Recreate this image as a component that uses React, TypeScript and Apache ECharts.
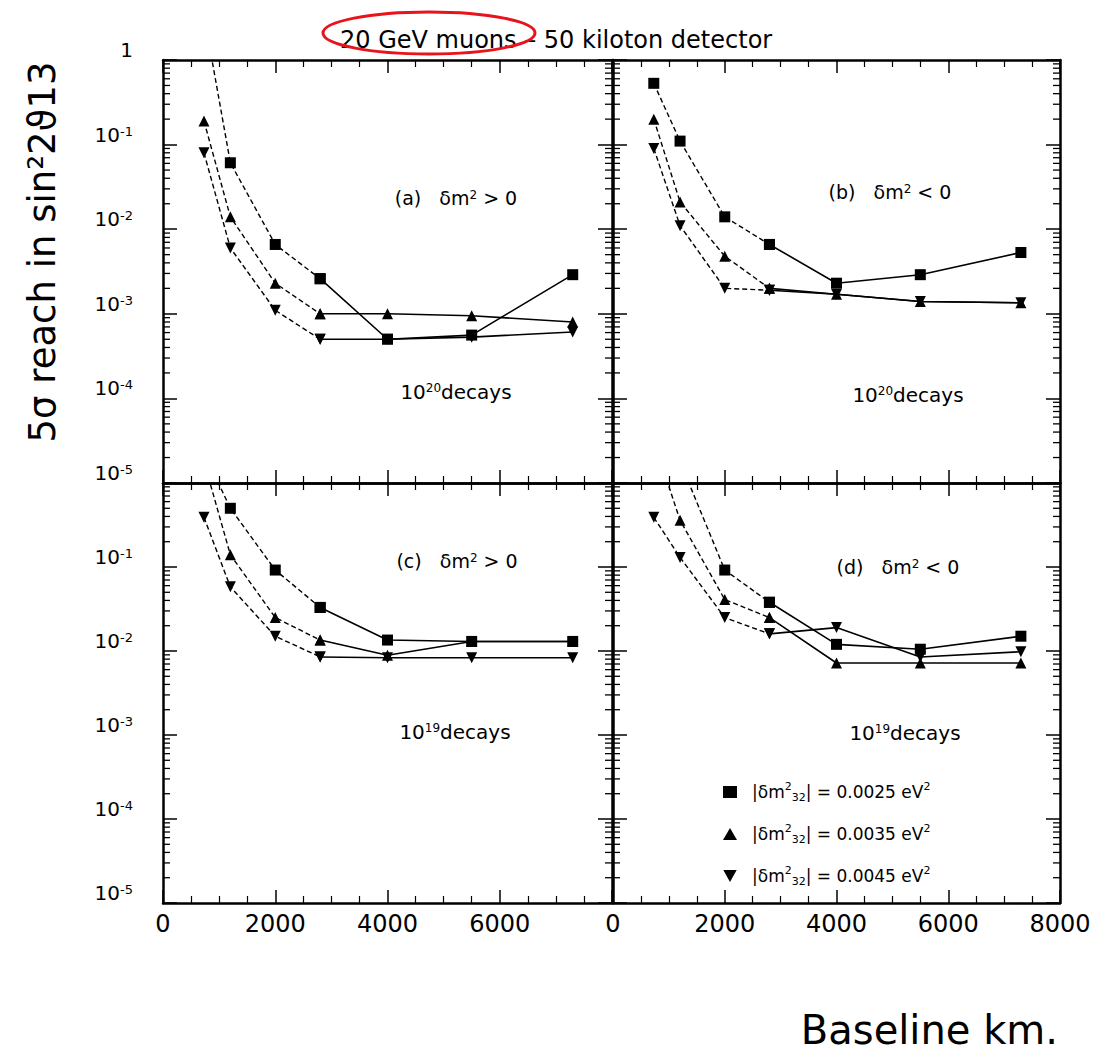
import React, { useEffect, useRef } from "react";
import * as echarts from "echarts";

// ---------- data ----------
const BASELINES = [730, 1200, 2000, 2800, 4000, 5500, 7300];

// panel (a) dm^2 > 0, 10^20 decays
const A_SQUARE = [3.4, 0.061, 0.0066, 0.0026, 0.0005, 0.00056, 0.0029];
const A_UP = [0.19, 0.014, 0.0023, 0.001, 0.001, 0.00095, 0.0008];
const A_DOWN = [0.08, 0.006, 0.0011, 0.0005, 0.0005, 0.00053, 0.00061];
// panel (b) dm^2 < 0, 10^20 decays
const B_SQUARE = [0.53, 0.11, 0.014, 0.0066, 0.0023, 0.0029, 0.0053];
const B_UP = [0.2, 0.021, 0.0048, 0.002, 0.0017, 0.0014, 0.00135];
const B_DOWN = [0.09, 0.011, 0.002, 0.0019, 0.0017, 0.0014, 0.00135];
// panel (c) dm^2 > 0, 10^19 decays
const C_SQUARE = [2.3, 0.5, 0.092, 0.033, 0.0135, 0.013, 0.013];
const C_UP = [1.8, 0.14, 0.025, 0.0135, 0.0089, 0.013, 0.013];
const C_DOWN = [0.39, 0.058, 0.015, 0.0085, 0.0083, 0.0083, 0.0083];
// panel (d) dm^2 < 0, 10^19 decays
const D_SQUARE = [20, 1.8, 0.092, 0.038, 0.012, 0.0105, 0.015];
const D_UP = [3.2, 0.36, 0.041, 0.025, 0.0072, 0.0072, 0.0072];
const D_DOWN = [0.39, 0.13, 0.025, 0.016, 0.019, 0.0085, 0.0098];

const PANEL_TAGS = ["(a)", "(b)", "(c)", "(d)"];
const PANEL_SIGNS = [">", "<", ">", "<"];
const PANEL_DECAYS = ["20", "20", "19", "19"];
const LEGEND_NAMES = ["sq", "up", "dn"];
const LEGEND_VALUES = ["0.0025", "0.0035", "0.0045"];
const X_TICKS_MAX = 8000;
const Y_DECADES = [-5, -4, -3, -2, -1];
const Y_MINOR_MULT = [2, 3, 4, 5, 6, 7, 8, 9];

const TITLE = "20 GeV muons \u2013 50 kiloton detector";
const Y_TITLE = "5\u03c3 reach in sin\u00b22\u03d113";
const X_TITLE = "Baseline km.";

const FONT = "DejaVu Sans";
const INK = "#000";

function buildOption() {
  const grids = [
    { left: 163, top: 60, width: 449, height: 423 },
    { left: 613, top: 60, width: 447, height: 423 },
    { left: 163, top: 483, width: 449, height: 420 },
    { left: 613, top: 483, width: 447, height: 420 },
  ];
  const panels = [
    { sq: A_SQUARE, up: A_UP, dn: A_DOWN },
    { sq: B_SQUARE, up: B_UP, dn: B_DOWN },
    { sq: C_SQUARE, up: C_UP, dn: C_DOWN },
    { sq: D_SQUARE, up: D_UP, dn: D_DOWN },
  ];
  const minorY: number[] = [];
  Y_DECADES.forEach((d) => Y_MINOR_MULT.forEach((k) => minorY.push(k * Math.pow(10, d))));

  const xAxis: any[] = [];
  const yAxis: any[] = [];
  const series: any[] = [];

  grids.forEach((g, i) => {
    const bottomLabels = i >= 2;
    const common = {
      type: "value",
      gridIndex: i,
      min: 0,
      max: X_TICKS_MAX,
      interval: 2000,
      splitLine: { show: false },
      axisLine: { show: true, onZero: false, lineStyle: { color: INK, width: 2.5 } },
      axisTick: { show: true, inside: true, length: 13, lineStyle: { color: INK, width: 1.5 } },
      minorTick: { show: true, splitNumber: 4, length: 7, lineStyle: { color: INK, width: 1.2 } },
    };
    xAxis.push({
      ...common,
      position: "bottom",
      axisLabel: {
        show: bottomLabels,
        margin: 9,
        showMinLabel: true,
        showMaxLabel: true,
        color: INK,
        fontFamily: FONT,
        fontSize: 24,
        formatter: (v: number) => (i === 2 && v === X_TICKS_MAX ? "" : String(v)),
      },
    });
    xAxis.push({ ...common, position: "top", axisLabel: { show: false } });

    const ycommon = {
      type: "log",
      logBase: 10,
      gridIndex: i,
      min: 1e-5,
      max: 1,
      splitLine: { show: false },
      axisLine: { show: true, onZero: false, lineStyle: { color: INK, width: 2.5 } },
      axisTick: { show: true, inside: true, length: 14, lineStyle: { color: INK, width: 1.5 } },
      minorTick: { show: false },
    };
    const showY = i === 0 || i === 2;
    yAxis.push({
      ...ycommon,
      position: "left",
      axisLabel: {
        show: showY,
        margin: 30,
        verticalAlign: "bottom",
        showMinLabel: true,
        showMaxLabel: true,
        formatter: (v: number) => {
          const e = Math.round(Math.log10(v));
          if (e === 0) return i === 0 ? "{b|1}" : "";
          return "{b|10}{s|" + e + "}";
        },
        rich: {
          b: { fontSize: 20, fontFamily: FONT, color: INK, lineHeight: 20 },
          s: { fontSize: 13, fontFamily: FONT, color: INK, lineHeight: 13, verticalAlign: "top" },
        },
      },
    });
    yAxis.push({ ...ycommon, position: "right", axisLabel: { show: false } });

    // log minor ticks on both vertical edges, through the axis scale
    series.push({
      type: "custom",
      xAxisIndex: 2 * i,
      yAxisIndex: 2 * i,
      silent: true,
      clip: false,
      encode: { x: 0, y: 1 },
      data: minorY.map((v) => [0, v]),
      renderItem: (_p: any, api: any) => {
        const v = api.value(1);
        const l = api.coord([0, v]);
        const r = api.coord([X_TICKS_MAX, v]);
        return {
          type: "group",
          children: [
            { type: "line", shape: { x1: l[0], y1: l[1], x2: l[0] + 7, y2: l[1] }, style: { stroke: INK, lineWidth: 1.3 } },
            { type: "line", shape: { x1: r[0], y1: r[1], x2: r[0] - 7, y2: r[1] }, style: { stroke: INK, lineWidth: 1.3 } },
          ],
        };
      },
    });

    const p = panels[i];
    const defs = [
      { name: "sq", vals: p.sq, symbol: "rect", rotate: 0, size: 11 },
      { name: "up", vals: p.up, symbol: "triangle", rotate: 0, size: 11 },
      { name: "dn", vals: p.dn, symbol: "triangle", rotate: 180, size: 11 },
    ];
    defs.forEach((d) => {
      const pts = BASELINES.map((x, j) => [x, d.vals[j]]);
      const base = {
        type: "line",
        name: d.name,
        xAxisIndex: 2 * i,
        yAxisIndex: 2 * i,
        symbol: d.symbol,
        symbolRotate: d.rotate,
        symbolSize: d.size,
        itemStyle: { color: INK },
        clip: true,
        z: 3,
      };
      series.push({ ...base, data: pts.slice(0, 4), lineStyle: { color: INK, width: 1.4, type: [5, 3] } });
      series.push({ ...base, data: pts.slice(3), lineStyle: { color: INK, width: 1.6, type: "solid" } });
    });
  });

  const sup = { fontSize: 12, fontFamily: FONT, fill: INK, lineHeight: 12, verticalAlign: "top" };
  const graphic: any[] = [
    {
      type: "text",
      x: 340,
      y: 40,
      style: { text: TITLE, fontFamily: FONT, fontSize: 24, fill: INK, textAlign: "left", textVerticalAlign: "middle" },
    },
    {
      type: "ellipse",
      shape: { cx: 429, cy: 33, rx: 106, ry: 21 },
      style: { fill: "none", stroke: "#e8131b", lineWidth: 3 },
    },
    {
      type: "text",
      x: 42,
      y: 252,
      rotation: Math.PI / 2,
      style: { text: Y_TITLE, fontFamily: FONT, fontSize: 37, fill: INK, textAlign: "center", textVerticalAlign: "middle" },
    },
    {
      type: "text",
      x: 1058,
      y: 1030,
      style: { text: X_TITLE, fontFamily: FONT, fontSize: 40, fill: INK, textAlign: "right", textVerticalAlign: "middle" },
    },
  ];
  const tagPos = [
    [456, 198],
    [890, 192],
    [457, 561],
    [898, 567],
  ];
  const decPos = [
    [456, 392],
    [908, 395],
    [455, 732],
    [905, 733],
  ];
  for (let i = 0; i < 4; i++) {
    graphic.push({
      type: "text",
      x: tagPos[i][0],
      y: tagPos[i][1],
      style: {
        text: PANEL_TAGS[i] + "   \u03b4m{s|2} " + PANEL_SIGNS[i] + " 0",
        fontFamily: FONT,
        fontSize: 19,
        fill: INK,
        textAlign: "center",
        textVerticalAlign: "middle",
        rich: { s: sup },
      },
    });
    graphic.push({
      type: "text",
      x: decPos[i][0],
      y: decPos[i][1],
      style: {
        text: "10{s|" + PANEL_DECAYS[i] + "}decays",
        fontFamily: FONT,
        fontSize: 20,
        fill: INK,
        textAlign: "center",
        textVerticalAlign: "middle",
        rich: { s: sup },
      },
    });
  }

  const legendValue: Record<string, string> = {};
  LEGEND_NAMES.forEach((n, k) => (legendValue[n] = LEGEND_VALUES[k]));

  return {
    animation: false,
    backgroundColor: "#fff",
    grid: grids.map((g) => ({ ...g, containLabel: false })),
    xAxis,
    yAxis,
    series,
    graphic,
    legend: {
      left: 718,
      top: 776,
      orient: "vertical",
      itemGap: 20,
      itemWidth: 14,
      itemHeight: 12,
      selectedMode: false,
      data: [
        { name: "sq", icon: "rect" },
        { name: "up", icon: "triangle" },
        { name: "dn", icon: "path://M0,0L10,0L5,9Z" },
      ],
      itemStyle: { color: INK },
      formatter: (n: string) => "|\u03b4m{p|2}{q|32}| = " + legendValue[n] + " eV{p|2}",
      textStyle: {
        fontFamily: FONT,
        fontSize: 17,
        color: INK,
        lineHeight: 22,
        padding: [0, 0, 0, 10],
        rich: {
          p: { fontSize: 11, fontFamily: FONT, color: INK, lineHeight: 11, verticalAlign: "top" },
          q: { fontSize: 11, fontFamily: FONT, color: INK, lineHeight: 11, verticalAlign: "bottom" },
        },
      },
    },
  };
}

export default function App() {
  const ref = useRef<HTMLDivElement>(null);
  useEffect(() => {
    if (!ref.current) return;
    const chart = echarts.init(ref.current, null, { renderer: "svg" });
    chart.setOption(buildOption() as any);
    return () => chart.dispose();
  }, []);
  return (
    <div
      ref={ref}
      style={{ position: "absolute", left: 0, top: 0, width: 1095, height: 1053, background: "#fff" }}
    />
  );
}
